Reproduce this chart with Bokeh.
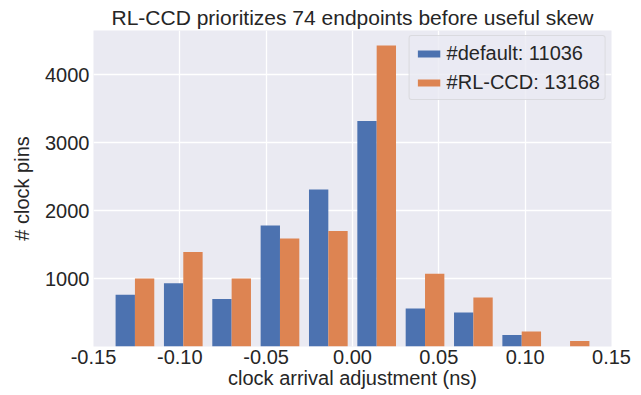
from bokeh.plotting import figure
from bokeh.models import FixedTicker, NumeralTickFormatter, Range1d, Legend, LegendItem, ColumnDataSource
from bokeh.embed import file_html
from bokeh.resources import INLINE

bin_centers = [-0.126, -0.098, -0.070, -0.042, -0.014, 0.014, 0.042, 0.070, 0.098, 0.126]
default_counts = [760, 930, 700, 1780, 2310, 3320, 560, 500, 170, 0]
rlccd_counts = [1000, 1390, 1000, 1590, 1700, 4430, 1070, 720, 220, 80]
x_ticks = [-0.15, -0.10, -0.05, 0.00, 0.05, 0.10, 0.15]
y_ticks = [1000, 2000, 3000, 4000]
title_text = "RL-CCD prioritizes 74 endpoints before useful skew"
label_default = "#default: 11036"
label_rlccd = "#RL-CCD: 13168"

bin_width = 0.028
bar_w = bin_width * 0.8 / 2

FONT = "Liberation Sans"
TXT = "#262626"

p = figure(width=641, height=395, output_backend="svg", toolbar_location=None,
           x_range=Range1d(-0.15, 0.15), y_range=Range1d(0, 4650),
           min_border_left=93, min_border_right=30, min_border_top=30, min_border_bottom=49)

p.title.text = title_text
p.title.align = "center"
p.title.text_font = FONT
p.title.text_font_size = "21px"
p.title.text_font_style = "normal"
p.title.text_color = TXT
p.title.standoff = 3
p.title.offset = 0

p.background_fill_color = "#EAEAF2"
p.border_fill_color = "white"
p.outline_line_color = None

src = ColumnDataSource(dict(
    xd=[c - bar_w / 2 for c in bin_centers],
    xr=[c + bar_w / 2 for c in bin_centers],
    d=default_counts, r=rlccd_counts))

r1 = p.vbar(x="xd", top="d", width=bar_w, source=src, fill_color="#4C72B0", line_color=None)
r2 = p.vbar(x="xr", top="r", width=bar_w, source=src, fill_color="#DD8452", line_color=None)

p.xaxis.ticker = FixedTicker(ticks=x_ticks)
p.xaxis.formatter = NumeralTickFormatter(format="0.00")
p.yaxis.ticker = FixedTicker(ticks=y_ticks)
p.xgrid.ticker = FixedTicker(ticks=x_ticks)
p.ygrid.ticker = FixedTicker(ticks=y_ticks)
p.grid.grid_line_color = "white"
p.grid.grid_line_width = 1.3
p.grid.level = "underlay"

for ax in (p.xaxis, p.yaxis):
    ax.axis_line_color = None
    ax.major_tick_line_color = None
    ax.minor_tick_line_color = None
    ax.major_tick_out = 0
    ax.major_tick_in = 0
    ax.minor_tick_out = 0
    ax.major_label_text_font = FONT
    ax.major_label_text_font_size = "20px"
    ax.major_label_text_color = TXT
    ax.axis_label_text_font = FONT
    ax.axis_label_text_font_size = "20px"
    ax.axis_label_text_font_style = "normal"
    ax.axis_label_text_color = TXT

p.xaxis.axis_label = "clock arrival adjustment (ns)"
p.yaxis.axis_label = "# clock pins"
p.xaxis.major_label_standoff = 3
p.xaxis.axis_label_standoff = 0
p.yaxis.major_label_standoff = 4
p.yaxis.axis_label_standoff = 9

legend = Legend(items=[LegendItem(label=label_default, renderers=[r1]),
                       LegendItem(label=label_rlccd, renderers=[r2])],
                location="top_right")
legend.background_fill_color = "#EAEAF2"
legend.background_fill_alpha = 0.8
legend.border_line_color = "#cccccc"
legend.border_line_width = 1
legend.border_radius = 3
legend.label_text_font = FONT
legend.label_text_font_size = "20px"
legend.label_text_color = TXT
legend.label_height = 24
legend.glyph_width = 28
legend.glyph_height = 9
legend.label_standoff = 4
legend.spacing = 5
legend.padding = 5
legend.margin = 5
p.add_layout(legend)

open("out.html", "w").write(file_html(p, INLINE))
